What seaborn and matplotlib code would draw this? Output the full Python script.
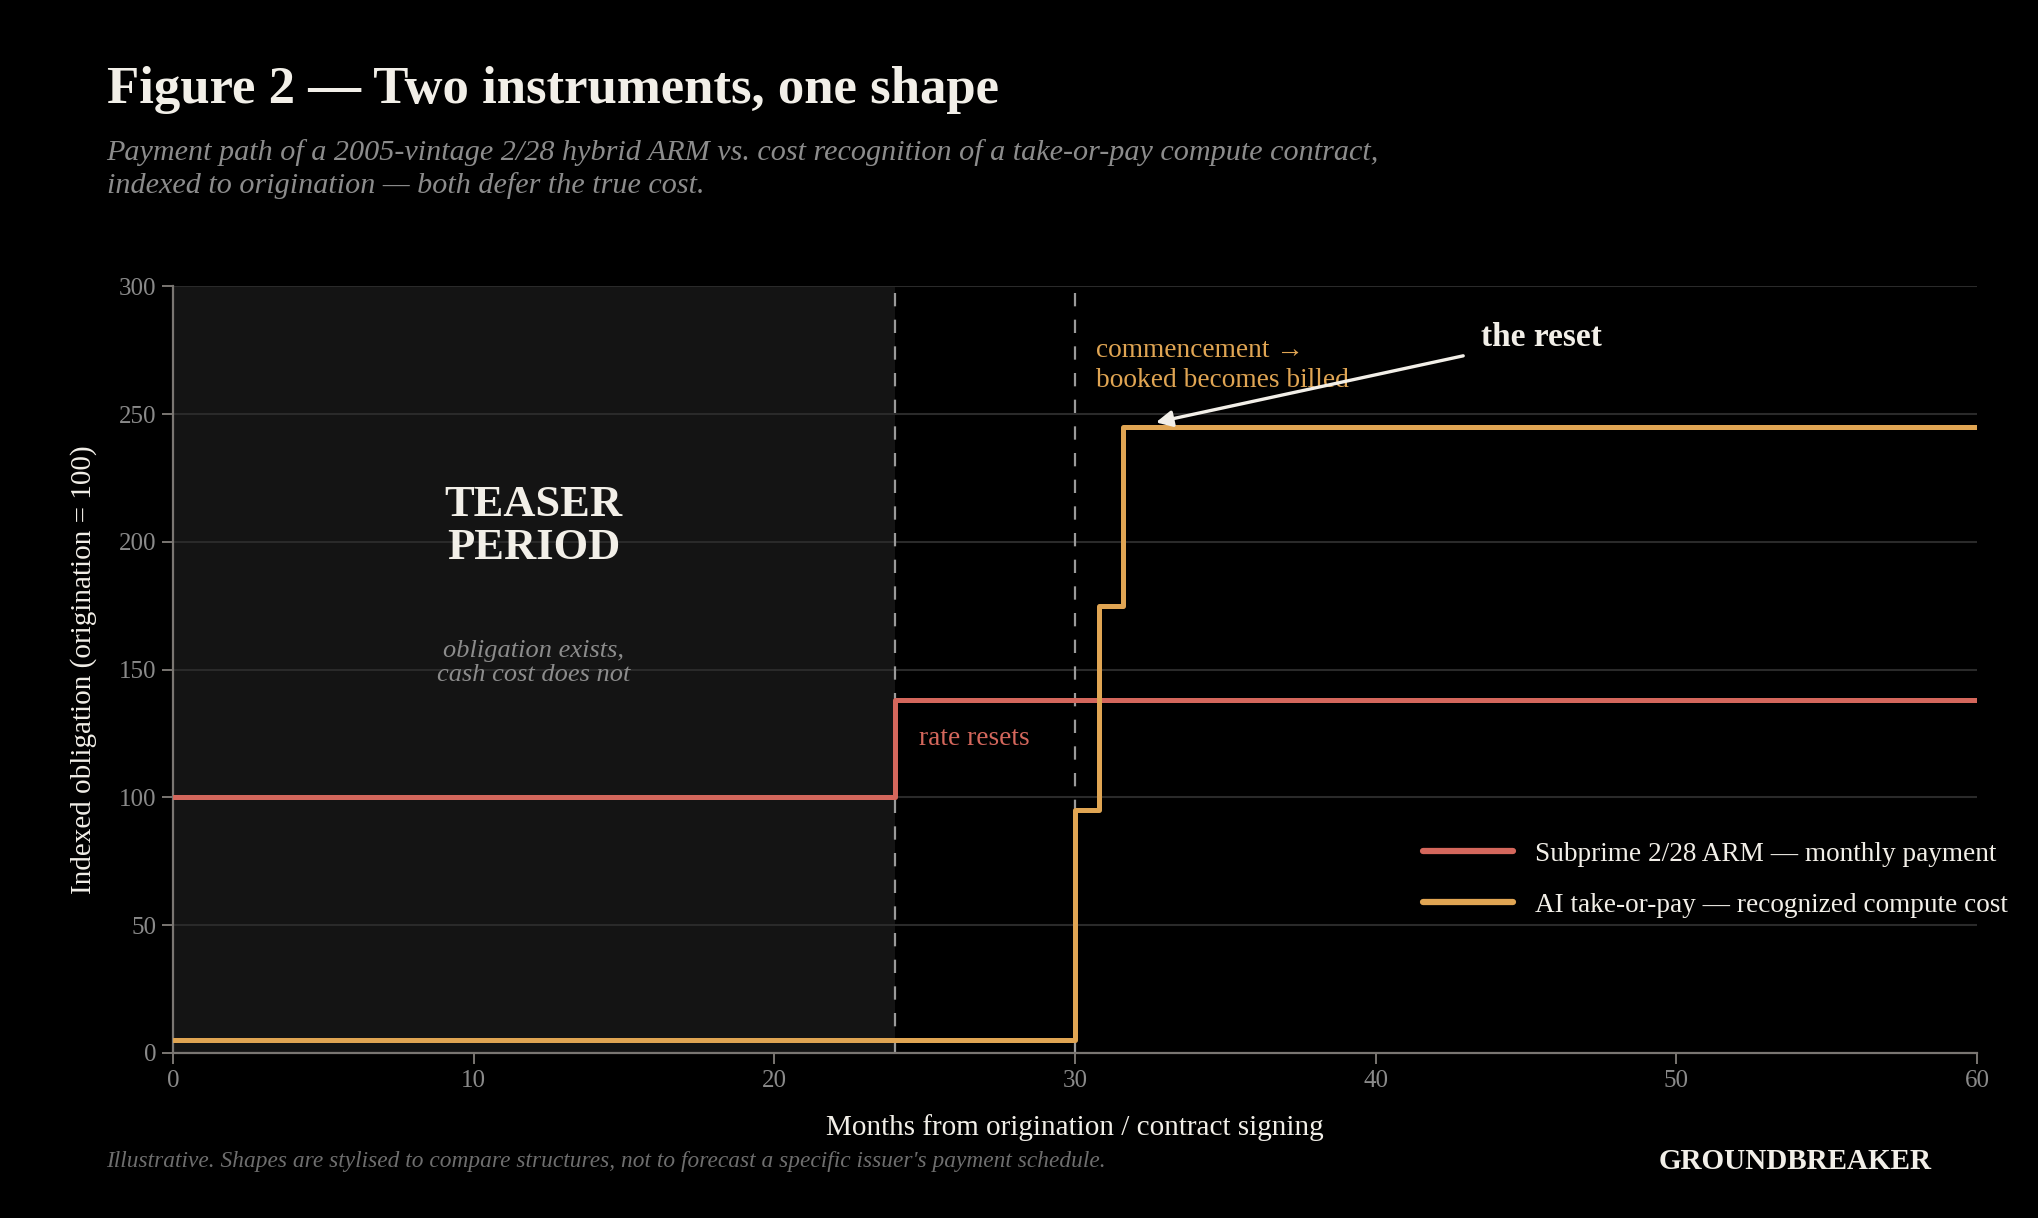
import pandas as pd
import numpy as np
import matplotlib
matplotlib.use('Agg')
import matplotlib.pyplot as plt
import seaborn as sns

# data
arm_months = [0, 24, 60]
arm_index = [100, 138, 138]
ai_months = [0, 30, 30.8, 31.6, 60]
ai_index = [5, 95, 175, 245, 245]
series_names = ['Subprime 2/28 ARM — monthly payment',
                'AI take-or-pay — recognized compute cost']
teaser_end = 24
commencement = 30
x_ticks = [0, 10, 20, 30, 40, 50, 60]
y_ticks = [0, 50, 100, 150, 200, 250, 300]

RED = '#d4675c'
ORANGE = '#e0a553'
WHITE = '#f2efe8'
GREY = '#8c8c8c'

df = pd.concat([
    pd.DataFrame({'month': arm_months, 'index': arm_index, 'series': series_names[0]}),
    pd.DataFrame({'month': ai_months, 'index': ai_index, 'series': series_names[1]}),
], ignore_index=True)

sns.set_theme(style='dark')
plt.rcParams['font.family'] = ['Liberation Serif', 'DejaVu Serif']
plt.rcParams['axes.facecolor'] = 'black'
plt.rcParams['figure.facecolor'] = 'black'

fig = plt.figure(figsize=(20.38, 12.18), dpi=100)
ax = fig.add_axes([0.0849, 0.1355, 0.8852, 0.6295])
ax.set_facecolor('black')

ax.axvspan(0, teaser_end, color='#141414', zorder=0, lw=0)
for y in y_ticks[1:]:
    ax.axhline(y, color='#2a2a2a', lw=1.5, zorder=0.5)
for x in [teaser_end, commencement]:
    ax.axvline(x, color='#9a9a9a', lw=1.6, ls=(0, (6, 6)), zorder=1)

sns.lineplot(data=df, x='month', y='index', hue='series',
             palette={series_names[0]: RED, series_names[1]: ORANGE},
             drawstyle='steps-post', lw=3.6, ax=ax, zorder=3,
             estimator=None, sort=False)

ax.set_xlim(0, 60)
ax.set_ylim(0, 300)
ax.set_xticks(x_ticks)
ax.set_yticks(y_ticks)
ax.grid(False)
for s in ['top', 'right']:
    ax.spines[s].set_visible(False)
for s in ['left', 'bottom']:
    ax.spines[s].set_color('#7a7672')
    ax.spines[s].set_linewidth(1.6)
ax.tick_params(axis='both', colors='#7a7672', labelcolor='#8a8a8a',
               labelsize=18, length=8, width=1.4, direction='out', pad=4)
ax.tick_params(axis='both', bottom=True, left=True)

ax.set_xlabel('Months from origination / contract signing', color=WHITE,
              fontsize=21, labelpad=16)
ax.set_ylabel('Indexed obligation (origination = 100)', color=WHITE,
              fontsize=21, labelpad=16)

# in-chart annotations
ax.text(12, 206, 'TEASER\nPERIOD', ha='center', va='center', color=WHITE,
        fontsize=32, fontweight='bold', linespacing=1.12, zorder=4)
ax.text(12, 152.5, 'obligation exists,\ncash cost does not', ha='center',
        va='center', color=GREY, fontsize=19, style='italic',
        linespacing=1.1, zorder=4)
ax.text(24.8, 123, 'rate resets', ha='left', va='center', color=RED,
        fontsize=19.7, zorder=4)
ax.text(30.7, 269, 'commencement →\nbooked becomes billed', ha='left',
        va='center', color=ORANGE, fontsize=19.7, linespacing=1.28, zorder=4)
ax.text(43.5, 280, 'the reset', ha='left', va='center', color=WHITE,
        fontsize=24, fontweight='bold', zorder=5)
ax.annotate('', xy=(32.6, 246.5), xytext=(43.0, 273),
            arrowprops=dict(arrowstyle='-|>,head_length=0.8,head_width=0.4',
                            color=WHITE, lw=2.4), zorder=5)

leg = ax.legend(loc='center left', bbox_to_anchor=(0.693, 0.226),
                frameon=False, fontsize=19.6, handlelength=3.3,
                handletextpad=0.8, labelspacing=0.95, borderpad=0,
                borderaxespad=0)
for t in leg.get_texts():
    t.set_color(WHITE)
for h in leg.get_lines():
    h.set_linewidth(4.5)

fig.text(0.0523, 0.926, 'Figure 2 — Two instruments, one shape', color=WHITE,
         fontsize=38, fontweight='bold', ha='left', va='center')
fig.text(0.0523, 0.861,
         'Payment path of a 2005-vintage 2/28 hybrid ARM vs. cost recognition of a take-or-pay compute contract,\n'
         'indexed to origination — both defer the true cost.',
         color=GREY, fontsize=21.7, style='italic', ha='left', va='center',
         linespacing=1.3)
fig.text(0.0523, 0.046,
         "Illustrative. Shapes are stylised to compare structures, not to forecast a specific issuer's payment schedule.",
         color='#6e6e6e', fontsize=16.8, style='italic', ha='left', va='center')
fig.text(0.948, 0.046, 'GROUNDBREAKER', color=WHITE, fontsize=21,
         fontweight='bold', ha='right', va='center')

fig.savefig('out.png', dpi=100, facecolor='black')
